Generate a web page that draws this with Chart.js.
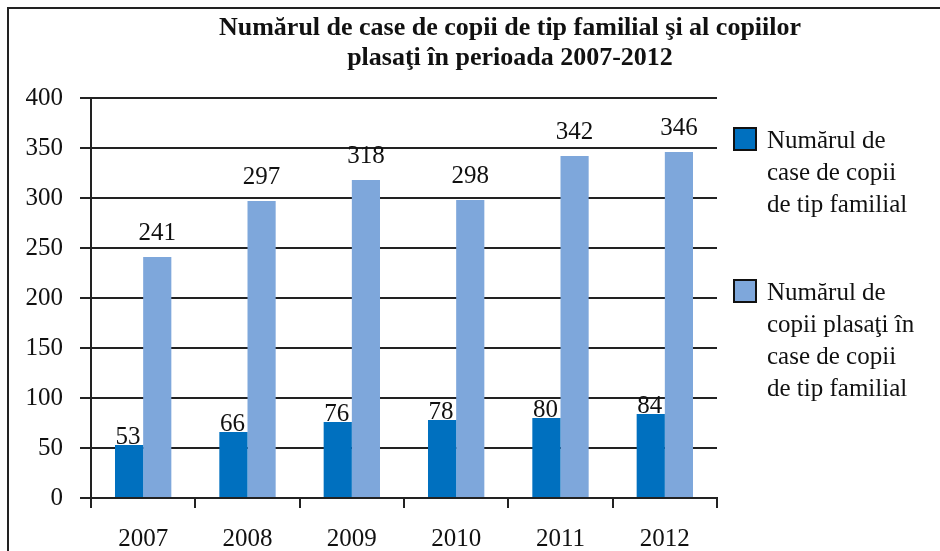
<!DOCTYPE html>
<html lang="ro">
<head>
    <meta charset="UTF-8">
    <title>Case de copii de tip familial</title>
    <script src="https://cdn.jsdelivr.net/npm/chart.js"></script>
    <style>
        body { margin: 0; background: #fff; }
    </style>
</head>
<body>
    <canvas id="chart" width="940" height="551"></canvas>

    <script>
        const years = ['2007', '2008', '2009', '2010', '2011', '2012'];
        const caseFamiliale = [53, 66, 76, 78, 80, 84];
        const copiiPlasati = [241, 297, 318, 298, 342, 346];
        const yTicks = [0, 50, 100, 150, 200, 250, 300, 350, 400];

        const titleLines = ['Numărul de case de copii de tip familial şi al copiilor', 'plasaţi în perioada 2007-2012'];
        const legendLines = [
            ['Numărul de', 'case de copii', 'de tip familial'],
            ['Numărul de', 'copii plasaţi în', 'case de copii', 'de tip familial']
        ];

        const serif = '"Liberation Serif", "Times New Roman", serif';

        // frame, title, value labels and legend drawn on the canvas
        const extras = {
            id: 'extras',
            beforeDraw(chart) {
                const ctx = chart.ctx;
                ctx.save();
                ctx.strokeStyle = '#222';
                ctx.lineWidth = 2;
                ctx.beginPath();
                ctx.moveTo(8, 551);
                ctx.lineTo(8, 8);
                ctx.lineTo(940, 8);
                ctx.stroke();

                ctx.fillStyle = '#111';
                ctx.font = 'bold 26px ' + serif;
                ctx.textAlign = 'center';
                ctx.textBaseline = 'middle';
                ctx.fillText(titleLines[0], 510, 28);
                ctx.fillText(titleLines[1], 510, 58);
                ctx.restore();
            },
            afterDatasetsDraw(chart) {
                const ctx = chart.ctx;
                ctx.save();
                ctx.fillStyle = '#111';
                ctx.font = '25px ' + serif;
                ctx.textAlign = 'center';
                ctx.textBaseline = 'alphabetic';
                chart.data.datasets.forEach((ds, i) => {
                    const meta = chart.getDatasetMeta(i);
                    meta.data.forEach((bar, j) => {
                        const gap = i === 0 ? 1 : 17;
                        ctx.fillText(ds.data[j], bar.x - (i === 0 ? 1 : 0), bar.y - gap);
                    });
                });

                // legend
                const tops = [128, 280];
                ctx.textAlign = 'left';
                ctx.textBaseline = 'middle';
                ctx.font = '25px ' + serif;
                chart.data.datasets.forEach((ds, i) => {
                    const y = tops[i];
                    ctx.fillStyle = ds.backgroundColor;
                    ctx.fillRect(734, y, 22, 22);
                    ctx.strokeStyle = '#111';
                    ctx.lineWidth = 2;
                    ctx.strokeRect(734, y, 22, 22);
                    ctx.fillStyle = '#111';
                    legendLines[i].forEach((line, k) => {
                        ctx.fillText(line, 767, y + 13 + k * 32);
                    });
                });
                ctx.restore();
            }
        };

        const ctx = document.getElementById('chart').getContext('2d');
        new Chart(ctx, {
            type: 'bar',
            data: {
                labels: years,
                datasets: [{
                    label: 'Numărul de case de copii de tip familial',
                    data: caseFamiliale,
                    backgroundColor: '#0070BF'
                }, {
                    label: 'Numărul de copii plasaţi în case de copii de tip familial',
                    data: copiiPlasati,
                    backgroundColor: '#7EA7DB'
                }]
            },
            options: {
                responsive: false,
                animation: false,
                layout: {
                    padding: { left: 8, top: 98, right: 223, bottom: 0 }
                },
                datasets: {
                    bar: { categoryPercentage: 0.54, barPercentage: 1.0 }
                },
                plugins: {
                    legend: { display: false },
                    title: { display: false },
                    tooltip: { enabled: false }
                },
                scales: {
                    x: {
                        afterFit(scale) { scale.height = 53; },
                        grid: {
                            drawOnChartArea: false,
                            drawTicks: true,
                            tickLength: 10,
                            color: '#222',
                            lineWidth: 2
                        },
                        border: { color: '#222', width: 2 },
                        ticks: {
                            color: '#111',
                            padding: 16,
                            font: { family: serif, size: 25 }
                        }
                    },
                    y: {
                        min: 0,
                        max: 400,
                        afterFit(scale) { scale.width = 83; },
                        afterBuildTicks(scale) {
                            scale.ticks = yTicks.map(v => ({ value: v }));
                        },
                        grid: {
                            color: '#222',
                            lineWidth: 2,
                            tickLength: 11
                        },
                        border: { color: '#222', width: 2 },
                        ticks: {
                            color: '#111',
                            padding: 17,
                            font: { family: serif, size: 25 }
                        }
                    }
                }
            },
            plugins: [extras]
        });
    </script>
</body>
</html>
